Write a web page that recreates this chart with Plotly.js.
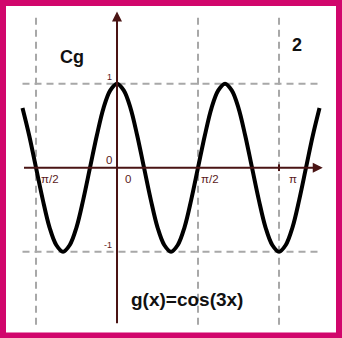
<!DOCTYPE html>
<html>
<head>
<meta charset="utf-8">
<script src="https://cdn.plot.ly/plotly-3.0.1.min.js"></script>
<style>
  html, body { margin: 0; padding: 0; background: #fff; }
  #chart { width: 342px; height: 338px; }
</style>
</head>
<body>
<div id="chart"></div>
<script>
// curve samples, x in steps of pi/24
const xSteps = [-14, -13, -12, -11, -10, -9, -8, -7, -6, -5, -4, -3, -2, -1, 0, 1, 2, 3, 4, 5, 6, 7, 8, 9,
  10, 11, 12, 13, 14, 15, 16, 17, 18, 19, 20, 21, 22, 23, 24, 25, 26, 27, 28, 29, 30];
const gValues = [0.71, 0.38, 0, -0.38, -0.71, -0.92, -1, -0.92, -0.71, -0.38, 0, 0.38, 0.71, 0.92, 1, 0.92, 0.71, 0.38, 0,
  -0.38, -0.71, -0.92, -1, -0.92, -0.71, -0.38, 0, 0.38, 0.71, 0.92, 1, 0.92, 0.71, 0.38, 0, -0.38, -0.71, -0.92, -1,
  -0.92, -0.71, -0.38, 0, 0.38, 0.71];

// ticks
const xTickVals = [-Math.PI / 2, 0, Math.PI / 2, Math.PI];
const xTickText = ["π/2", "0", "π/2", "π"];
const xGridVals = [-Math.PI / 2, Math.PI / 2, Math.PI];
const yTickVals = [1, 0, -1];
const yTickText = ["1", "0", "-1"];
const yGridVals = [1, -1];

const step = Math.PI / 24;
const xs = xSteps.map(s => s * step);

const axisColor = "#4a1414";
const gridColor = "#a8a8a8";
const pink = "#d1066c";
const font = "Liberation Sans, Arial, sans-serif";

// extents of the drawn axes / grid
const xLeft = xs[0];
const xRight = 3.99;
const yTop = 1.84;
const yBottom = -1.87;

let curve = {
  x: xs,
  y: gValues,
  mode: "lines",
  line: {color: "#000", width: 4, shape: "spline", smoothing: 1},
  hoverinfo: "none",
  showlegend: false
};

let shapes = [];
xGridVals.forEach(v => {
  shapes.push({type: "line", xref: "x", yref: "y", x0: v, x1: v, y0: yBottom, y1: yTop,
    line: {color: gridColor, width: 2, dash: "7px,5px"}, layer: "below"});
});
yGridVals.forEach(v => {
  shapes.push({type: "line", xref: "x", yref: "y", x0: xLeft, x1: 3.9, y0: v, y1: v,
    line: {color: gridColor, width: 2, dash: "7px,5px"}, layer: "below"});
});
// tick mark at pi
shapes.push({type: "line", xref: "x", yref: "y", x0: Math.PI, x1: Math.PI, y0: -0.04, y1: 0.04,
  line: {color: axisColor, width: 2}});
// pink frame
shapes.push({type: "rect", xref: "paper", yref: "paper", x0: 3 / 342, x1: 1 - 3 / 342, y0: 2.5 / 338, y1: 1 - 3 / 338,
  line: {color: pink, width: 6}, fillcolor: "rgba(0,0,0,0)"});

let annotations = [];
// axes with arrows
annotations.push({x: xRight, y: 0, ax: xLeft, ay: 0, axref: "x", ayref: "y", xref: "x", yref: "y",
  text: "", showarrow: true, arrowhead: 2, arrowsize: 1, arrowwidth: 2, arrowcolor: axisColor});
annotations.push({x: 0, y: yTop + 0.02, ax: 0, ay: yBottom, axref: "x", ayref: "y", xref: "x", yref: "y",
  text: "", showarrow: true, arrowhead: 2, arrowsize: 1, arrowwidth: 2, arrowcolor: axisColor});

// x tick labels
const xLabelShift = [3, 6, 1, 8];
xTickVals.forEach((v, i) => {
  annotations.push({x: v, y: 0, xref: "x", yref: "y", text: xTickText[i], showarrow: false,
    xanchor: "left", yanchor: "top", xshift: xLabelShift[i], yshift: -3,
    font: {family: font, size: 11.5, color: "#5a1a1a"}});
});
// y tick labels
const yLabelSize = [9, 11.5, 9];
yTickVals.forEach((v, i) => {
  annotations.push({x: 0, y: v, xref: "x", yref: "y", text: yTickText[i], showarrow: false,
    xanchor: "right", yanchor: "bottom", xshift: -3, yshift: 0,
    font: {family: font, size: yLabelSize[i], color: "#5a1a1a"}});
});

// titles
annotations.push({xref: "paper", yref: "paper", x: 72 / 342, y: 1 - 57 / 338, text: "<b>Cg</b>",
  showarrow: false, xanchor: "center", yanchor: "middle", font: {family: font, size: 18, color: "#111"}});
annotations.push({xref: "paper", yref: "paper", x: 297 / 342, y: 1 - 45 / 338, text: "<b>2</b>",
  showarrow: false, xanchor: "center", yanchor: "middle", font: {family: font, size: 18, color: "#111"}});
annotations.push({xref: "paper", yref: "paper", x: 187 / 342, y: 1 - 299 / 338, text: "<b>g(x)=cos(3x)</b>",
  showarrow: false, xanchor: "center", yanchor: "middle", font: {family: font, size: 19, color: "#111"}});

let layout = {
  width: 342,
  height: 338,
  margin: {l: 0, r: 0, t: 0, b: 0},
  paper_bgcolor: "#fff",
  plot_bgcolor: "#fff",
  xaxis: {range: [-2.269, 4.363], visible: false, fixedrange: true},
  yaxis: {range: [-2.027, 1.996], visible: false, fixedrange: true},
  shapes: shapes,
  annotations: annotations,
  showlegend: false
};

Plotly.newPlot("chart", [curve], layout, {staticPlot: true, displayModeBar: false});
</script>
</body>
</html>
